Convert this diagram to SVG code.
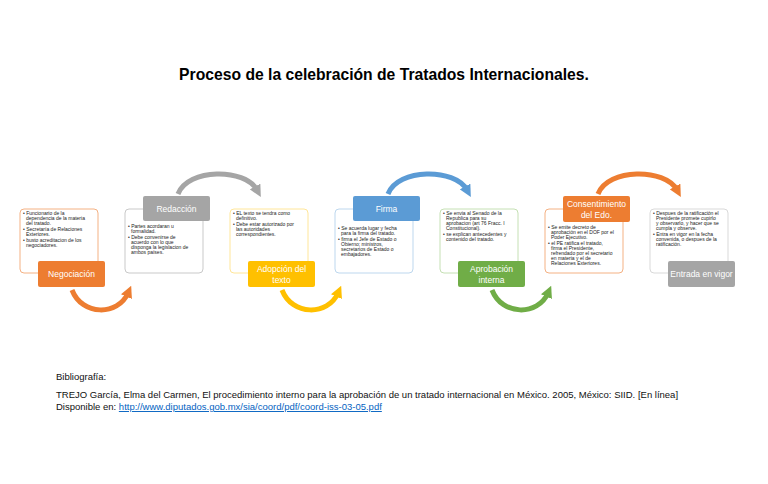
<svg xmlns="http://www.w3.org/2000/svg" width="768" height="484" viewBox="0 0 768 484">
<style>
text{font-family:"Liberation Sans",Arial,sans-serif}
.t{font-size:15.7px;font-weight:bold;fill:#000}
.b{font-size:5px;fill:#222}
.o{fill:#fff;stroke-width:1}
.l{font-size:8.5px;fill:#fff;text-anchor:middle}
.bib{font-size:9.5px;fill:#111}
.arc{fill:none;stroke-width:5}
</style>
<defs>
<marker id="ao" markerWidth="2.4" markerHeight="2.4" refX="0.8" refY="1.2" orient="auto"><path d="M0,0L2.4,1.2L0,2.4z" fill="#ED7D31"/></marker>
<marker id="ag" markerWidth="2.4" markerHeight="2.4" refX="0.8" refY="1.2" orient="auto"><path d="M0,0L2.4,1.2L0,2.4z" fill="#A5A5A5"/></marker>
<marker id="ay" markerWidth="2.4" markerHeight="2.4" refX="0.8" refY="1.2" orient="auto"><path d="M0,0L2.4,1.2L0,2.4z" fill="#FFC000"/></marker>
<marker id="ab" markerWidth="2.4" markerHeight="2.4" refX="0.8" refY="1.2" orient="auto"><path d="M0,0L2.4,1.2L0,2.4z" fill="#5B9BD5"/></marker>
<marker id="agr" markerWidth="2.4" markerHeight="2.4" refX="0.8" refY="1.2" orient="auto"><path d="M0,0L2.4,1.2L0,2.4z" fill="#70AD47"/></marker>
</defs>
<rect width="768" height="484" fill="#fff"/>
<text class="t" x="384" y="80" text-anchor="middle">Proceso de la celebración de Tratados Internacionales.</text>
<g id="connectors">
<path class="arc" stroke="#ED7D31" d="M72,290 C82,316 118,316 128,293" marker-end="url(#ao)"/>
<path class="arc" stroke="#A5A5A5" d="M178,194 C188,168 245,168 257,190" marker-end="url(#ag)"/>
<path class="arc" stroke="#FFC000" d="M282,290 C292,316 328,316 338,293" marker-end="url(#ay)"/>
<path class="arc" stroke="#5B9BD5" d="M388,194 C398,168 455,168 467,190" marker-end="url(#ab)"/>
<path class="arc" stroke="#70AD47" d="M492,290 C502,316 538,316 548,293" marker-end="url(#agr)"/>
<path class="arc" stroke="#ED7D31" d="M598,194 C608,168 665,168 677,190" marker-end="url(#ao)"/>
</g>
<g id="n1">
<rect class="o" x="20" y="209" width="78" height="64" rx="4" stroke="#F4B183"/>
<text class="b"><tspan x="23" y="215">• Funcionario de la</tspan><tspan x="26" y="220">dependencia de la materia</tspan><tspan x="26" y="225">del tratado.</tspan><tspan x="23" y="231">• Secretaría de Relaciones</tspan><tspan x="26" y="236">Exteriores.</tspan><tspan x="23" y="242">• busto acreditacion de los</tspan><tspan x="26" y="247">negociadores.</tspan></text>
<rect x="38" y="261" width="67" height="26" rx="2" fill="#ED7D31"/>
<text class="l" x="71.5" y="277">Negociación</text>
</g>
<g id="n2">
<rect class="o" x="125" y="209" width="78" height="64" rx="4" stroke="#C9C9C9"/>
<text class="b"><tspan x="128" y="228">• Partes acordaran u</tspan><tspan x="131" y="233">formalidad.</tspan><tspan x="128" y="239">• Debe convenirse de</tspan><tspan x="131" y="244">acuerdo con lo que</tspan><tspan x="131" y="249">disponga la legislacion de</tspan><tspan x="131" y="254">ambos países.</tspan></text>
<rect x="143" y="196" width="67" height="25" rx="2" fill="#A5A5A5"/>
<text class="l" x="176.5" y="212">Redacción</text>
</g>
<g id="n3">
<rect class="o" x="230" y="209" width="78" height="64" rx="4" stroke="#FFE699"/>
<text class="b"><tspan x="233" y="215">• EL texto se tendra como</tspan><tspan x="236" y="220">definitivo.</tspan><tspan x="233" y="226">• Debe estar autorizado por</tspan><tspan x="236" y="231">las autoridades</tspan><tspan x="236" y="236">correspondientes.</tspan></text>
<rect x="248" y="261" width="67" height="26" rx="2" fill="#FFC000"/>
<text class="l" x="281.5" y="272">Adopción del</text><text class="l" x="281.5" y="283">texto</text>
</g>
<g id="n4">
<rect class="o" x="335" y="209" width="78" height="64" rx="4" stroke="#BDD7EE"/>
<text class="b"><tspan x="338" y="230">• Se acuerda lugar y fecha</tspan><tspan x="341" y="235">para la firma del tratado.</tspan><tspan x="338" y="241">• firma el Jefe de Estado o</tspan><tspan x="341" y="246">Obierno; ministros,</tspan><tspan x="341" y="251">secretarios de Estado o</tspan><tspan x="341" y="256">embajadores.</tspan></text>
<rect x="353" y="196" width="67" height="25" rx="2" fill="#5B9BD5"/>
<text class="l" x="386.5" y="212">Firma</text>
</g>
<g id="n5">
<rect class="o" x="440" y="209" width="78" height="64" rx="4" stroke="#C5E0B4"/>
<text class="b"><tspan x="443" y="215">• Se envia al Senado de la</tspan><tspan x="446" y="220">Republica para su</tspan><tspan x="446" y="225">aprobacion (art 76 Fracc. I</tspan><tspan x="446" y="230">Constitucional).</tspan><tspan x="443" y="236">• se explican antecedentes y</tspan><tspan x="446" y="241">contenido del tratado.</tspan></text>
<rect x="458" y="261" width="67" height="26" rx="2" fill="#70AD47"/>
<text class="l" x="491.5" y="272">Aprobación</text><text class="l" x="491.5" y="283">interna</text>
</g>
<g id="n6">
<rect class="o" x="545" y="209" width="78" height="64" rx="4" stroke="#F4B183"/>
<text class="b"><tspan x="548" y="229">• Se emite decreto de</tspan><tspan x="551" y="234">aprobación en el DOF por el</tspan><tspan x="551" y="239">Poder Ejecutivo.</tspan><tspan x="548" y="245">• el PE ratifica el tratado,</tspan><tspan x="551" y="250">firma el Presidente,</tspan><tspan x="551" y="255">refrendado por el secretario</tspan><tspan x="551" y="260">en materia y el de</tspan><tspan x="551" y="265">Relaciones Exteriores.</tspan></text>
<rect x="563" y="196" width="67" height="26" rx="2" fill="#ED7D31"/>
<text class="l" x="596.5" y="207">Consentimiento</text><text class="l" x="596.5" y="218">del Edo.</text>
</g>
<g id="n7">
<rect class="o" x="650" y="209" width="78" height="64" rx="4" stroke="#D9D9D9"/>
<text class="b"><tspan x="653" y="215">• Despues de la ratificación el</tspan><tspan x="656" y="220">Presidente promete cupirlo</tspan><tspan x="656" y="225">y observarlo, y hacer que se</tspan><tspan x="656" y="230">cumpla y observe.</tspan><tspan x="653" y="236">• Entra en vigor en la fecha</tspan><tspan x="656" y="241">convenida, o despues de la</tspan><tspan x="656" y="246">ratificación.</tspan></text>
<rect x="668" y="261" width="67" height="26" rx="2" fill="#A5A5A5"/>
<text class="l" x="701.5" y="277">Entrada en vigor</text>
</g>
<text class="bib" x="56" y="380">Bibliografía:</text>
<text class="bib" x="56" y="398">TREJO García, Elma del Carmen, El procedimiento interno para la aprobación de un tratado internacional en México. 2005, México: SIID. [En línea]</text>
<text class="bib" x="56" y="410">Disponible en: <tspan fill="#0563C1" text-decoration="underline">http://www.diputados.gob.mx/sia/coord/pdf/coord-iss-03-05.pdf</tspan></text>
</svg>
